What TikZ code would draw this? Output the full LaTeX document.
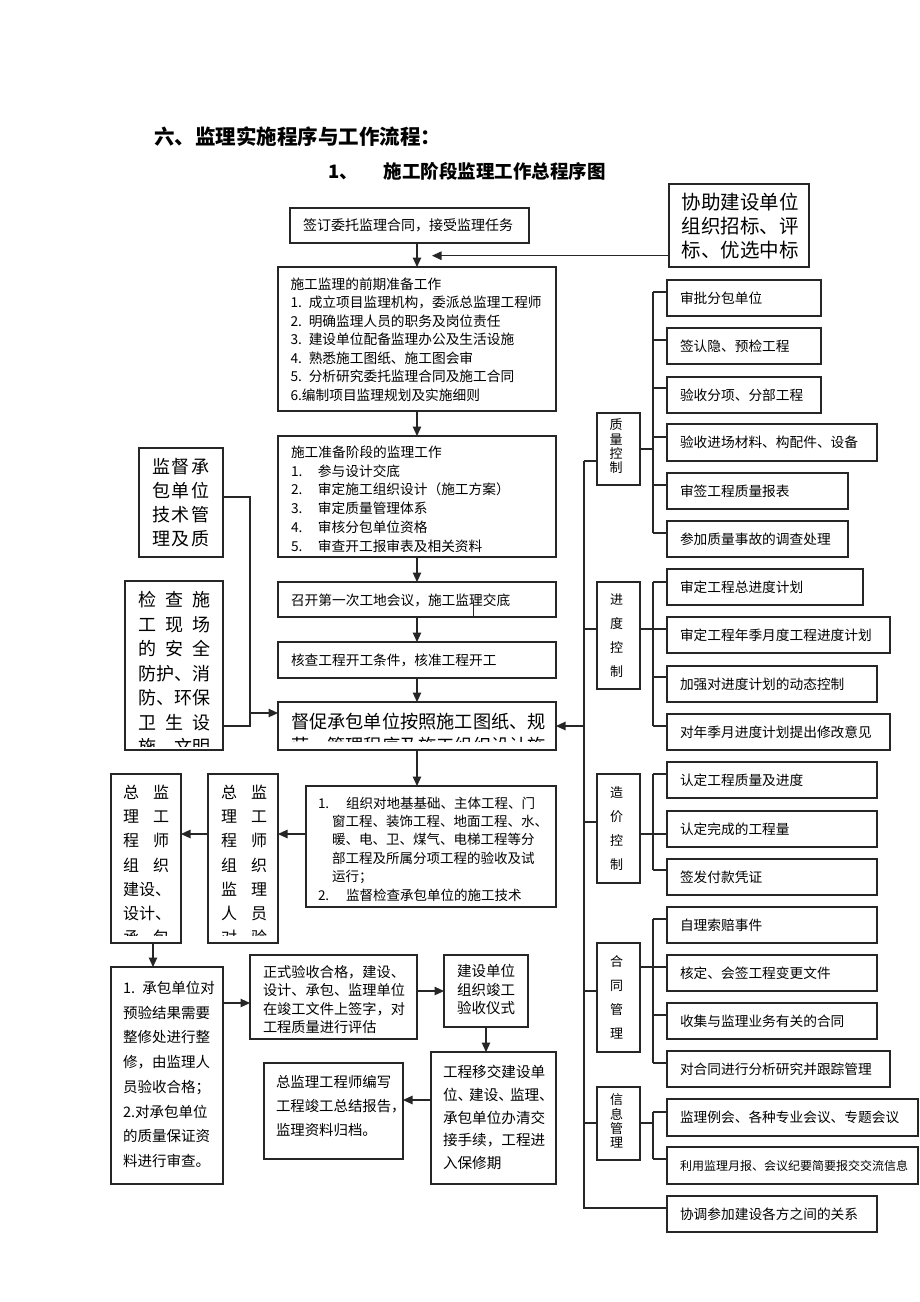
\documentclass[tikz,border=0pt]{standalone}
\usepackage{fontspec}
\setmainfont{Noto Sans CJK SC}
\usetikzlibrary{arrows.meta}
\newcommand\fsz[2]{\fontsize{#1pt}{#2pt}\selectfont}
\newcommand\mybox[5]{\node[boxst, minimum width={(#4)-(#2)}, minimum height={(#5)-(#3)}] (#1) at ({((#2)+(#4))/2},{((#3)+(#5))/2}) {};}
\newcommand\spr[2]{\leavevmode\hbox to #1pt{#2}}
\newcommand\subc[3]{\coordinate (#1c) at (#2,#3); \draw[ln] (#1c) -- (#1c -| #1.west);}
\newcommand\subt[3]{\node[txt, font=\fsz{13.7}{16}] (#1t) at (680,#2) {#3};}
\begin{document}
\begin{tikzpicture}[x=1pt,y=-1pt,
  boxst/.style={draw=black!85, line width=1.1pt, inner sep=0pt, outer sep=0pt},
  ln/.style={draw=black!85, line width=1.1pt},
  arr/.style={ln, -{Triangle[length=9.5pt,width=8.5pt]}},
  txt/.style={inner sep=0pt, outer sep=0pt, anchor=base west, align=left}]
\useasboundingbox[fill=white] (0,0) rectangle (920,1302);

% titles
\node[txt, font=\fsz{20.5}{24}\bfseries] (title) at (154,144.8) {六、监理实施程序与工作流程：};
\node[txt, font=\fsz{18.5}{22}\bfseries] (subtitle) at (328,178.5) {1、\hspace{26pt}施工阶段监理工作总程序图};

% ---------- central column ----------
\mybox{top}{290}{208}{529}{243}
\node[txt, font=\fsz{14}{16}] (topt) at (303,230.8) {签订委托监理合同，接受监理任务};

\mybox{help}{669}{184}{809}{267}
\node[txt, text width=125pt, font=\fsz{19.5}{24}] (helpt) at (681.6,209.4) {协助建设单位\\组织招标、评\\标、优选中标};

\mybox{prep}{278}{267}{556}{411}
\node[txt, text width=262pt, font=\fsz{13.7}{18.5}] (prept) at (290.5,289.2) {施工监理的前期准备工作\\1. 成立项目监理机构，委派总监理工程师\\2. 明确监理人员的职务及岗位责任\\3. 建设单位配备监理办公及生活设施\\4. 熟悉施工图纸、施工图会审\\5. 分析研究委托监理合同及施工合同\\6.编制项目监理规划及实施细则};

\mybox{stage}{278}{436}{556}{557}
\node[txt, text width=262pt, font=\fsz{13.7}{18.8}] (staget) at (291,457.2) {施工准备阶段的监理工作\\\makebox[27pt][l]{1.}参与设计交底\\\makebox[27pt][l]{2.}审定施工组织设计（施工方案）\\\makebox[27pt][l]{3.}审定质量管理体系\\\makebox[27pt][l]{4.}审核分包单位资格\\\makebox[27pt][l]{5.}审查开工报审表及相关资料};

\mybox{meet}{278}{582}{556}{617}
\node[txt, font=\fsz{13.7}{16}] (meett) at (291,605.2) {召开第一次工地会议，施工监理交底};
\draw[ln, line width=0.8pt] (473,600) -- (473,617);

\mybox{check}{278}{642}{556}{678}
\node[txt, font=\fsz{13.7}{16}] (checkt) at (291,665.2) {核查工程开工条件，核准工程开工};

\mybox{urge}{278}{702}{556}{750}
\begin{scope}
\clip (urge.north west) rectangle ([yshift=9pt]urge.south east);
\node[txt, text width=262pt, font=\fsz{18.2}{24.5}] (urget) at (291,728.4) {督促承包单位按照施工图纸、规\\范、管理程序及施工组织设计施};
\end{scope}

% left boxes
\mybox{sup1}{139}{448}{223}{557}
\node[txt, text width=60pt, font=\fsz{18}{24}] (sup1t) at (152,473.8) {\spr{58}{监\hfill 督\hfill 承}\\\spr{58}{包\hfill 单\hfill 位}\\\spr{58}{技\hfill 术\hfill 管}\\\spr{58}{理\hfill 及\hfill 质}};

\mybox{sup2}{125}{581}{223}{750}
\begin{scope}
\clip (sup2.north west) rectangle ([yshift=4pt]sup2.south east);
\node[txt, text width=74pt, font=\fsz{18}{24.5}] (sup2t) at (138,606.8) {\spr{72}{检\hfill 查\hfill 施}\\\spr{72}{工\hfill 现\hfill 场}\\\spr{72}{的\hfill 安\hfill 全}\\\spr{72}{防护、消}\\\spr{72}{防、环保}\\\spr{72}{卫\hfill 生\hfill 设}\\\spr{72}{施、文明}};
\end{scope}

% ---------- bottom part ----------
\mybox{org}{306}{786}{556}{907}
\node[txt, text width=236pt, font=\fsz{13.5}{18.4}] (orgt) at (318,808.1) {\makebox[28pt][l]{1.}组织对地基基础、主体工程、门\\\hspace*{14pt}窗工程、装饰工程、地面工程、水、\\\hspace*{14pt}暖、电、卫、煤气、电梯工程等分\\\hspace*{14pt}部工程及所属分项工程的验收及试\\\hspace*{14pt}运行；\\\makebox[28pt][l]{2.}监督检查承包单位的施工技术};

\mybox{g1}{208}{774}{278}{943}
\begin{scope}
\clip (g1.north west) rectangle ([yshift=8pt]g1.south east);
\node[txt, text width=50pt, font=\fsz{16}{24.3}] (g1t) at (221,798.1) {\spr{46}{总\hfill 监}\\\spr{46}{理\hfill 工}\\\spr{46}{程\hfill 师}\\\spr{46}{组\hfill 织}\\\spr{46}{监\hfill 理}\\\spr{46}{人\hfill 员}\\\spr{46}{对\hfill 验}};
\end{scope}

\mybox{g2}{111}{774}{181}{943}
\begin{scope}
\clip (g2.north west) rectangle ([yshift=8pt]g2.south east);
\node[txt, text width=50pt, font=\fsz{16}{24.3}] (g2t) at (123,798.1) {\spr{46}{总\hfill 监}\\\spr{46}{理\hfill 工}\\\spr{46}{程\hfill 师}\\\spr{46}{组\hfill 织}\\\spr{46}{建设、}\\\spr{46}{设计、}\\\spr{46}{承\hfill 包}};
\end{scope}

\mybox{acc}{111}{967}{223}{1184}
\node[txt, text width=100pt, font=\fsz{14.5}{24.7}] (acct) at (123,993.5) {1. 承包单位对\\预验结果需要\\整修处进行整\\修，由监理人\\员验收合格；\\2.对承包单位\\的质量保证资\\料进行审查。};

\mybox{sign}{250}{955}{417}{1039}
\node[txt, text width=155pt, font=\fsz{14.2}{18.3}] (signt) at (263,977.4) {正式验收合格，建设、\\设计、承包、监理单位\\在竣工文件上签字，对\\工程质量进行评估};

\mybox{cer}{444}{955}{528}{1027}
\node[txt, text width=70pt, font=\fsz{14.5}{18.5}] (cert) at (457,976.5) {建设单位\\组织竣工\\验收仪式};

\mybox{hand}{431}{1052}{556}{1184}
\node[txt, text width=115pt, font=\fsz{14.6}{22.8}] (handt) at (443,1077.5) {工程移交建设单\\位、\kern-3pt 建设、\kern-3pt 监理、\\承包单位办清交\\接手续，工程进\\入保修期};

\mybox{sum}{264}{1063}{403}{1159}
\node[txt, text width=130pt, font=\fsz{14.4}{24}] (sumt) at (276,1087.5) {总监理工程师编写\\工程竣工总结报告，\\监理资料归档。};

% ---------- right part ----------
\mybox{qc}{597}{413}{640}{485}
\node[txt, text width=14pt, font=\fsz{13}{14.2}] (qct) at (609.5,429.9) {质\\量\\控\\制};
\mybox{q1}{667}{280}{821}{316}
\mybox{q2}{667}{328}{821}{364}
\mybox{q3}{667}{377}{821}{413}
\mybox{q4}{667}{424}{877}{461}
\mybox{q5}{667}{473}{848}{509}
\mybox{q6}{667}{521}{848}{557}
\subt{q1}{303.2}{审批分包单位}
\subt{q2}{351.2}{签认隐、预检工程}
\subt{q3}{400.2}{验收分项、分部工程}
\subt{q4}{447.7}{验收进场材料、构配件、设备}
\subt{q5}{496.2}{审签工程质量报表}
\subt{q6}{544.2}{参加质量事故的调查处理}

\mybox{pc}{597}{582}{640}{689}
\node[txt, text width=14pt, font=\fsz{13}{24}] (pct) at (610,604.9) {进\\度\\控\\制};
\mybox{p1}{667}{569}{863}{605}
\mybox{p2}{667}{617}{890}{653}
\mybox{p3}{667}{666}{877}{702}
\mybox{p4}{667}{714}{890}{750}
\subt{p1}{592.2}{审定工程总进度计划}
\subt{p2}{640.2}{审定工程年季月度工程进度计划}
\subt{p3}{689.2}{加强对进度计划的动态控制}
\subt{p4}{737.2}{对年季月进度计划提出修改意见}

\mybox{cc}{597}{774}{640}{883}
\node[txt, text width=14pt, font=\fsz{13}{24}] (cct) at (610,797.9) {造\\价\\控\\制};
\mybox{c1}{667}{762}{877}{798}
\mybox{c2}{667}{811}{877}{847}
\mybox{c3}{667}{859}{877}{895}
\subt{c1}{785.2}{认定工程质量及进度}
\subt{c2}{834.2}{认定完成的工程量}
\subt{c3}{882.2}{签发付款凭证}

\mybox{hc}{597}{943}{640}{1052}
\node[txt, text width=14pt, font=\fsz{13}{23.7}] (hct) at (610,966.9) {合\\同\\管\\理};
\mybox{h1}{667}{907}{877}{943}
\mybox{h2}{667}{955}{877}{991}
\mybox{h3}{667}{1003}{877}{1039}
\mybox{h4}{667}{1051}{890}{1087}
\subt{h1}{930.2}{自理索赔事件}
\subt{h2}{978.2}{核定、会签工程变更文件}
\subt{h3}{1026.2}{收集与监理业务有关的合同}
\subt{h4}{1074.2}{对合同进行分析研究并跟踪管理}

\mybox{ic}{597}{1087}{640}{1160}
\node[txt, text width=14pt, font=\fsz{13}{14.3}] (ict) at (610,1104.9) {信\\息\\管\\理};
\mybox{i1}{667}{1099}{918}{1136}
\mybox{i2}{667}{1147}{918}{1184}
\subt{i1}{1122.7}{监理例会、各种专业会议、专题会议}
\node[txt, font=\fsz{12}{14}] (i2t) at (680,1170.1) {利用监理月报、会议纪要简要报交交流信息};

\mybox{co}{667}{1196}{877}{1232}
\subt{co}{1219.2}{协调参加建设各方之间的关系}

% ---------- connectors: central ----------
\draw[arr] (top.south -| prep.north) -- (prep.north);
\coordinate (hend) at (432,255.7);
\draw[arr] (hend -| help.west) -- (hend);
\draw[arr] (prep.south) -- (stage.north);
\draw[arr] (stage.south) -- (meet.north);
\draw[arr] (meet.south) -- (check.north);
\draw[arr] (check.south) -- (urge.north);
\draw[arr] (urge.south) -- (urge.south |- org.north);

\coordinate (s1c) at (250,497);
\coordinate (s2c) at (250,726);
\coordinate (lj) at (250,713);
\draw[ln] (s1c -| sup1.east) -- (s1c) -- (s2c) -- (s2c -| sup2.east);
\draw[arr] (lj) -- (lj -| urge.west);

\coordinate (og) at (0,834);
\draw[arr] (og -| org.west) -- (og -| g1.east);
\draw[arr] (og -| g1.west) -- (og -| g2.east);
\coordinate (gx) at (153,0);
\draw[arr] (g2.south -| gx) -- (acc.north -| gx);
\coordinate (as) at (0,1003);
\draw[arr] (as -| acc.east) -- (as -| sign.west);
\coordinate (sc) at (0,991);
\draw[arr] (sc -| sign.east) -- (sc -| cer.west);
\draw[arr] (cer.south) -- (cer.south |- hand.north);
\coordinate (hs) at (0,1100);
\draw[arr] (hs -| hand.west) -- (hs -| sum.east);

% ---------- connectors: right ----------
\coordinate (mtop) at (584,461);
\coordinate (mbot) at (584,1208);
\coordinate (um) at (584,726);
\draw[ln] (mtop) -- (mbot) -- (mbot -| co.west);
\draw[ln] (mtop) -- (mtop -| qc.west);
\draw[arr] (um) -- (um -| urge.east);

\subc{q1}{653}{292}
\subc{q2}{653}{340}
\subc{q3}{653}{388}
\subc{q4}{653}{437}
\subc{q5}{653}{485}
\subc{q6}{653}{533}
\draw[ln] (q1c) -- (q6c);
\coordinate (qr) at (653,449);
\draw[ln] (qr -| qc.east) -- (qr);

\subc{p1}{653}{582}
\subc{p2}{653}{629}
\subc{p3}{653}{677}
\subc{p4}{653}{726}
\draw[ln] (p1c) -- (p4c);
\coordinate (pm) at (584,629);
\draw[ln] (pm) -- (pm -| pc.west);
\draw[ln] (p2c -| pc.east) -- (p2c);

\subc{c1}{653}{774}
\subc{c2}{653}{834}
\subc{c3}{653}{870}
\draw[ln] (c1c) -- (c3c);
\coordinate (cm) at (584,822);
\draw[ln] (cm) -- (cm -| cc.west);
\draw[ln] (c2c -| cc.east) -- (c2c);

\subc{h1}{653}{919}
\subc{h2}{653}{967}
\subc{h3}{653}{1015}
\subc{h4}{653}{1063}
\draw[ln] (h1c) -- (h4c);
\coordinate (hm) at (584,991);
\draw[ln] (hm) -- (hm -| hc.west);
\draw[ln] (h2c -| hc.east) -- (h2c);

\subc{i1}{653}{1112}
\subc{i2}{653}{1159}
\draw[ln] (i1c) -- (i2c);
\coordinate (im) at (584,1123);
\draw[ln] (im) -- (im -| ic.west);
\coordinate (ir) at (653,1123);
\draw[ln] (ir -| ic.east) -- (ir);
\end{tikzpicture}
\end{document}
